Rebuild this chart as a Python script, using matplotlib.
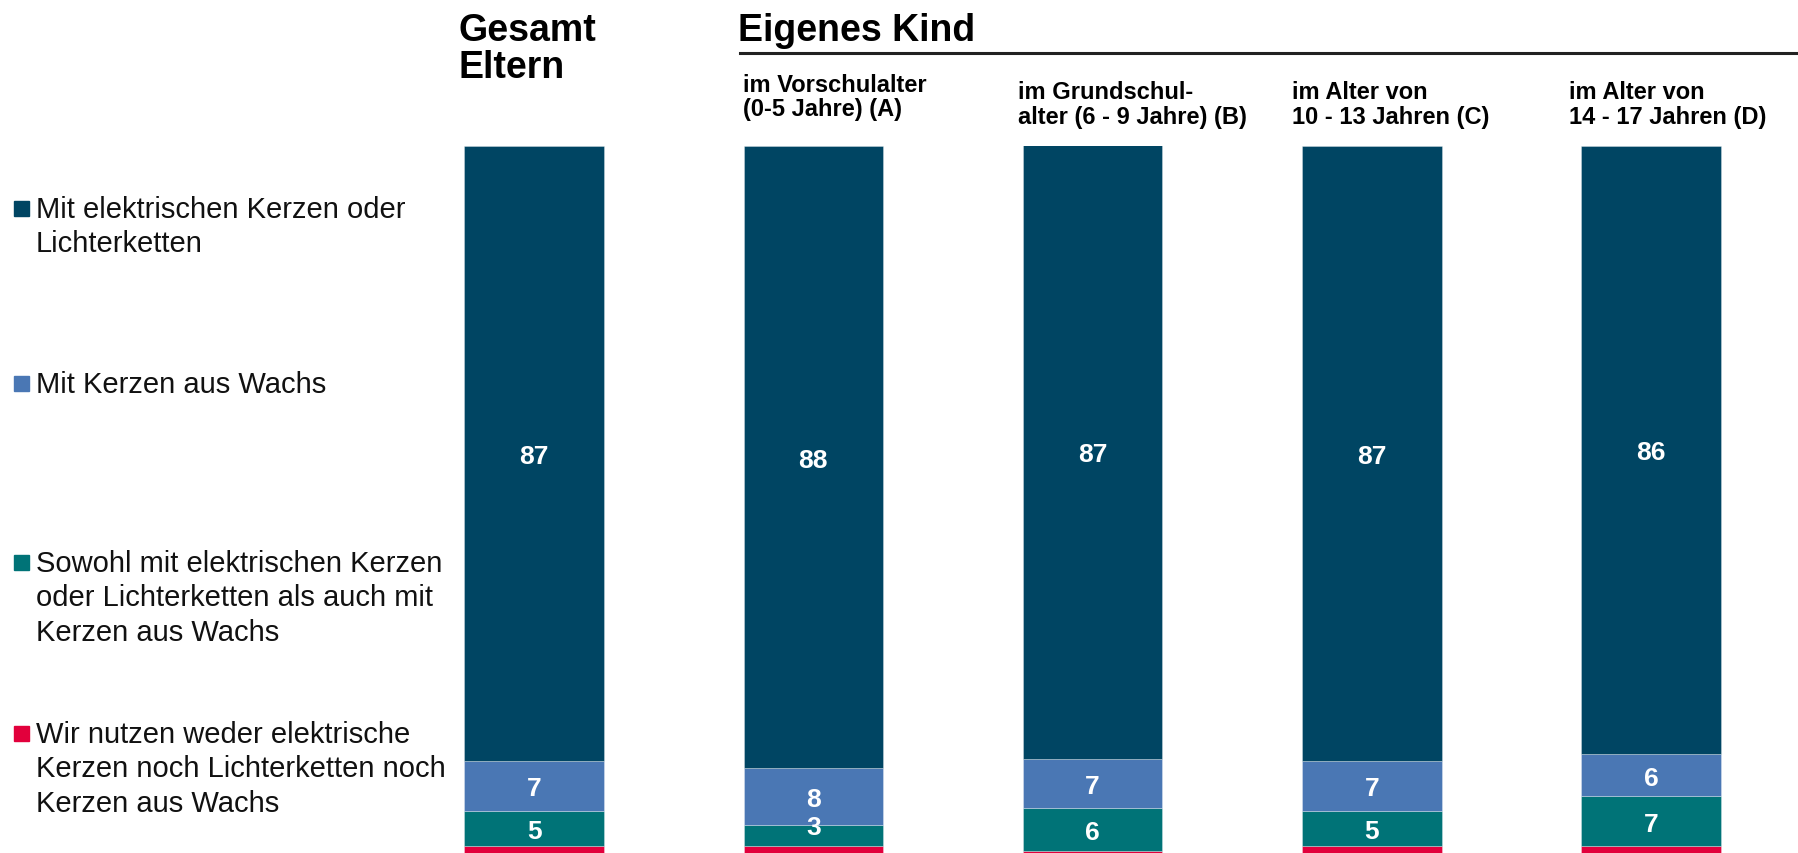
import matplotlib

matplotlib.use("Agg")
import matplotlib.pyplot as plt
import numpy as np
from matplotlib.patches import Rectangle

plt.rcParams["font.family"] = ["Liberation Sans", "DejaVu Sans"]

W, H = 1798, 854

groups = ["Gesamt", "A", "B", "C", "D"]
electric = [87, 88, 87, 87, 86]
wax = [7, 8, 7, 7, 6]
both = [5, 3, 6, 5, 7]
neither = [1, 1, 0.3, 1, 1]

series = [neither, both, wax, electric]
colors = ["#E2003C", "#007377", "#4A77B4", "#004563"]

legend_items = [
    ["Mit elektrischen Kerzen oder", "Lichterketten"],
    ["Mit Kerzen aus Wachs"],
    ["Sowohl mit elektrischen Kerzen", "oder Lichterketten als auch mit", "Kerzen aus Wachs"],
    ["Wir nutzen weder elektrische", "Kerzen noch Lichterketten noch", "Kerzen aus Wachs"],
]
legend_colors = ["#004563", "#4A77B4", "#007377", "#E2003C"]
legend_rows = [210, 385, 564, 735]

sub_headers = [
    ["im Vorschulalter", "(0-5 Jahre) (A)"],
    ["im Grundschul-", "alter (6 - 9 Jahre) (B)"],
    ["im Alter von", "10 - 13 Jahren (C)"],
    ["im Alter von", "14 - 17 Jahren (D)"],
]

LABEL_SIZE = 19


def fx(px):
    return px / W


def fy(py):
    return 1 - py / H


fig = plt.figure(figsize=(W / 100, H / 100), dpi=100)
ax = fig.add_axes([fx(394.5), 0, fx(1790.5) - fx(394.5), fy(147)])
ax.set_xlim(-0.5, 4.5)
ax.set_ylim(0, 100)
ax.axis("off")

x = np.arange(len(groups))
bottom = np.zeros(len(groups))
for values, color in zip(series, colors):
    values = np.array(values, dtype=float)
    ax.bar(x, values, bottom=bottom, width=0.5, color=color,
           edgecolor=(1, 1, 1, 0.35), linewidth=0.6)
    if color != "#E2003C":
        for xi, b, v in zip(x, bottom, values):
            y = b + v / 2
            if v < 4:
                y = b + v
            # baseline sits half a cap height below the anchor so digits look centred
            ax.annotate(f"{v:.0f}", (xi, y), xytext=(0, -0.358 * LABEL_SIZE),
                        textcoords="offset points", ha="center", va="baseline",
                        color="white", fontsize=LABEL_SIZE, fontweight="bold")
    bottom += values

# legend on the left
for lines, color, row in zip(legend_items, legend_colors, legend_rows):
    fig.patches.append(Rectangle((fx(14), fy(row + 7)), 15 / W, 15 / H,
                                 transform=fig.transFigure, color=color))
    for i, line in enumerate(lines):
        fig.text(fx(35.5), fy(row + i * 34.4), line, fontsize=21, va="center",
                 ha="left", color="#111111")

# headers
fig.text(fx(459), fy(41), "Gesamt", fontsize=27, fontweight="bold", va="baseline")
fig.text(fx(459), fy(78), "Eltern", fontsize=27, fontweight="bold", va="baseline")
fig.text(fx(738), fy(41), "Eigenes Kind", fontsize=27, fontweight="bold", va="baseline")
fig.add_artist(plt.Line2D([fx(740), 1.0], [fy(54), fy(54)], color="#222222",
                          linewidth=2.2, transform=fig.transFigure))

sub_x = [743, 1018, 1292, 1569]
sub_y = [(91.7, 115.8), (98.6, 123.8), (98.6, 123.8), (98.6, 123.8)]
for lines, sx, (y1, y2) in zip(sub_headers, sub_x, sub_y):
    fig.text(fx(sx), fy(y1), lines[0], fontsize=17, fontweight="bold", va="baseline")
    fig.text(fx(sx), fy(y2), lines[1], fontsize=17, fontweight="bold", va="baseline")

fig.savefig("out.png", dpi=100)
